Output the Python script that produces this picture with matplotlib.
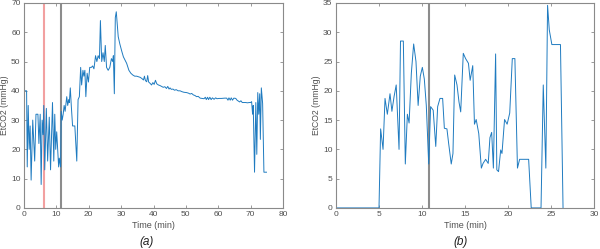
import matplotlib
matplotlib.use("Agg")
import matplotlib.pyplot as plt

# ---------------- data: panel (a) ----------------
t_a_early = [0, 0.15, 0.8, 1.0, 1.3, 1.6, 1.9, 2.2, 2.7, 3.3,
             3.7, 4.3, 4.6, 5.0, 5.3, 5.6, 5.9, 6.1, 6.4, 6.9,
             7.3, 7.8, 8.2, 8.8, 9.2, 9.5, 9.8, 10.1, 10.7, 10.9]
v_a_early = [0, 40, 40, 14, 35, 20, 28, 9.5, 30, 16,
             32, 32, 22, 32, 8, 30, 25, 35, 13, 34,
             16, 31, 13, 36, 16, 32, 20, 26, 14, 17]

t_a_mid = [11.3, 11.5, 11.8, 12.1, 12.4, 12.7, 13.0, 13.2, 13.5, 13.8,
           14.0, 14.3, 14.6, 15.0, 15.7, 16.3, 16.7, 17.1, 17.5, 17.8,
           18.2, 18.5, 18.8, 19.1, 19.5, 19.9, 20.3, 20.8, 21.2, 21.6,
           22.1, 22.5, 22.9, 23.3, 23.6, 24.0, 24.4, 24.8, 25.1, 25.5,
           26.0, 26.5, 27.0, 27.4, 27.6, 27.9, 28.2, 28.5, 29.1, 29.6,
           30.2, 30.7, 31.2, 31.7, 32.4]
v_a_mid = [14, 33, 30, 32, 35, 33, 36, 38, 35, 37,
           36, 41, 35, 28, 28, 16, 37, 38, 48, 42,
           47, 45, 47, 38, 46, 43, 48, 48, 48.5, 47.5,
           52, 50, 52, 51, 64, 50, 53, 50, 55.5, 48,
           47, 48, 51, 50, 52, 39, 65, 67, 58.5, 56,
           53.5, 51.6, 50.5, 49.4, 47]

t_a_late = [33.0, 33.6, 34.2, 34.8, 35.3, 35.9, 36.4, 36.9, 37.2, 37.5,
            37.9, 38.2, 38.5, 38.9, 39.4, 39.8, 40.2, 40.6, 41.0, 41.5,
            42.0, 42.5, 43.0, 43.5, 44.0, 44.4, 44.8, 45.1, 45.5, 46.0,
            46.5, 47.0, 47.6, 48.2, 48.8, 49.4, 50.2, 50.8, 51.3, 51.8,
            52.3, 52.8, 53.3, 53.8, 54.4, 55.0, 55.6, 56.0, 56.3, 56.7,
            57.0, 57.4, 57.8, 58.2, 58.7, 59.2, 59.6, 60.2, 61.0, 62.0,
            62.6, 63.0, 63.3, 63.7, 64.0, 64.4, 64.8, 65.4, 65.8, 66.2,
            66.6, 67.0, 67.4, 68.0, 68.5, 69.0, 69.6, 70.0, 70.3, 70.6,
            70.8, 71.2, 71.6, 71.9, 72.2, 72.5, 72.8, 73.0, 73.3, 73.7,
            74.1, 74.9]
v_a_late = [46, 45.4, 45, 45, 44.8, 44.6, 44.2, 43.7, 45, 43.5,
            43.1, 45.2, 43, 42.6, 42, 42.8, 42.2, 43.6, 42.4, 42,
            41.8, 41.5, 41.2, 41.4, 40.8, 41.5, 40.6, 41, 40.5, 40.6,
            40.2, 40.4, 40, 40, 39.7, 39.5, 39.4, 39.2, 38.9, 39.1,
            38.6, 38.4, 38, 38.1, 37.5, 37.4, 37.3, 37.8, 37.0, 37.8,
            37.0, 37.8, 37.0, 37.6, 37.1, 37.6, 37.3, 37.4, 37.4, 37.5,
            37.5, 36.8, 37.6, 36.8, 37.6, 36.8, 37.5, 37.4, 36.8, 36.5,
            36.2, 36.6, 36, 36, 36, 35.9, 36, 36, 36.3, 32,
            35, 12.2, 36, 18.3, 39.4, 32, 39, 23.4, 41, 35.7,
            12.2, 12.2]

marker_red_a = 6.1
marker_gray_a = 11.33

# ---------------- data: panel (b) ----------------
t_b = [0, 5.0, 5.19, 5.47, 5.7, 5.97, 6.28, 6.5, 6.75, 7.0,
       7.33, 7.5, 7.83, 8.06, 8.3, 8.5, 8.76, 9.03, 9.3, 9.55,
       9.8, 10.04, 10.27, 10.5, 10.78, 11.0, 11.3, 11.6, 11.82, 12.09,
       12.4, 12.6, 12.9, 13.1, 13.4, 13.6, 13.8, 14.07, 14.3, 14.5,
       14.8, 15.07, 15.4, 15.6, 15.9, 16.1, 16.3, 16.6, 16.9, 17.1,
       17.4, 17.7, 17.9, 18.1, 18.3, 18.56, 18.7, 18.9, 19.15, 19.3,
       19.6, 19.9, 20.2, 20.5, 20.8, 21.1, 21.35, 22.4, 22.7, 23.84,
       24.1, 24.4, 24.6, 24.8, 25.1, 26.1, 26.4]
v_b = [0, 0, 13.5, 10, 18.7, 16, 19.5, 16.5, 19, 21,
       10, 28.5, 28.5, 7.5, 16, 14.5, 23, 28, 25, 17.5,
       22.5, 24, 22, 17.5, 7.5, 17.3, 16.7, 10.5, 17.3, 18.7,
       18.7, 13.6, 13.5, 11, 7.5, 9.3, 22.7, 21, 18.1, 16.4,
       26.4, 25.5, 24.7, 21.8, 24.3, 14.3, 15.1, 12.7, 6.8, 7.6,
       8.3, 7.6, 12, 12.9, 6.8, 26.3, 6.5, 6.2, 9.9, 9.3,
       15.1, 14.3, 16.2, 25.5, 25.5, 6.8, 8.3, 8.3, 0, 0,
       21, 6.8, 34.6, 30.4, 27.9, 27.9, 0]
marker_gray_b = 10.78

xticks_a = [0, 10, 20, 30, 40, 50, 60, 70, 80]
yticks_a = [0, 10, 20, 30, 40, 50, 60, 70]
xticks_b = [0, 5, 10, 15, 20, 25, 30]
yticks_b = [0, 5, 10, 15, 20, 25, 30, 35]

# ---------------- styling ----------------
plt.rcParams['font.family'] = ['Liberation Sans', 'DejaVu Sans']
LINE = '#1f7bc0'
SPINE = '#8a8a8a'
TXT = '#505050'

fig = plt.figure(figsize=(6.0, 2.49), dpi=100)
ax1 = fig.add_axes([0.040, 0.165, 0.4317, 0.823])
ax2 = fig.add_axes([0.560, 0.165, 0.430, 0.823])


def style(ax, xt, yt, xlim, ylim):
    ax.set_xlim(*xlim)
    ax.set_ylim(*ylim)
    ax.set_xticks(xt)
    ax.set_yticks(yt)
    ax.tick_params(direction='in', length=2.5, width=0.6, colors=SPINE,
                   labelcolor=TXT, labelsize=6, top=True, right=True,
                   pad=2.5)
    for s in ax.spines.values():
        s.set_color(SPINE)
        s.set_linewidth(0.8)
    ax.set_xlabel('Time (min)', fontsize=6.5, color=TXT, labelpad=2)
    ax.set_ylabel('EtCO2 (mmHg)', fontsize=6.2, color=TXT, labelpad=1.5)


# panel (a)
ax1.axvline(marker_red_a, color='#f2a0a0', lw=1.5, zorder=1)
ax1.axvline(marker_gray_a, color='#8c8c8c', lw=1.5, zorder=1)
ax1.plot(t_a_early + t_a_mid + t_a_late, v_a_early + v_a_mid + v_a_late,
         color=LINE, lw=0.7, zorder=2)
style(ax1, xticks_a, yticks_a, (0, 80), (0, 70))

# panel (b)
ax2.axvline(marker_gray_b, color='#8c8c8c', lw=1.5, zorder=1)
ax2.plot(t_b, v_b, color=LINE, lw=0.7, zorder=2)
style(ax2, xticks_b, yticks_b, (0, 30), (0, 35))

fig.text(0.2445, 0.03, '(a)', fontsize=8.5, style='italic', color='#202020',
         ha='center', va='center')
fig.text(0.768, 0.03, '(b)', fontsize=8.5, style='italic', color='#202020',
         ha='center', va='center')

fig.savefig('out.png', dpi=100)
